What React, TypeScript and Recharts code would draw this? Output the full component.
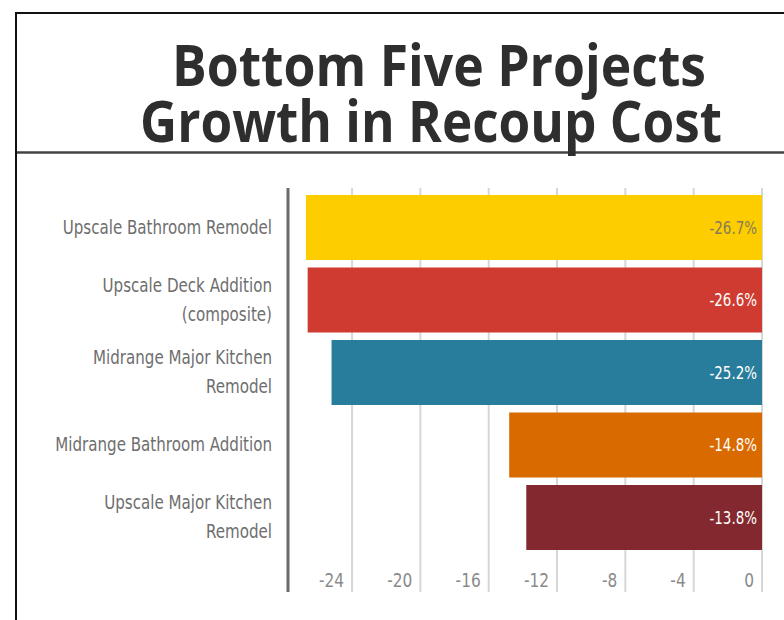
import React from "react";
import { BarChart, Bar, XAxis, YAxis, CartesianGrid, Cell, LabelList } from "recharts";

// data
const projects = [
  "Upscale Bathroom Remodel",
  "Upscale Deck Addition\n(composite)",
  "Midrange Major Kitchen\nRemodel",
  "Midrange Bathroom Addition",
  "Upscale Major Kitchen\nRemodel",
];
const growth = [-26.7, -26.6, -25.2, -14.8, -13.8];
const barColors = ["#fecd00", "#cf3b31", "#277d9b", "#d96a00", "#83282e"];
const labelColors = ["#857b5a", "#ffffff", "#ffffff", "#ffffff", "#ffffff"];
const xTicks = [-24, -20, -16, -12, -8, -4, 0];

const chartData = projects.map((name, i) => ({ name, value: growth[i], idx: i }));

const FONT = "'DejaVu Sans Condensed', 'Liberation Sans', sans-serif";
const TITLE_FONT = "'Open Sans', 'DejaVu Sans', sans-serif";
const PLOT_BOTTOM = 592;

// narrow text: the reference uses a narrow face we don't have, so squeeze horizontally
function NarrowText({ x, y, scale, children, ...rest }: any) {
  return (
    <text transform={`translate(${x},${y}) scale(${scale},1)`} x={0} y={0} dy="0.35em" fontFamily={FONT} {...rest}>
      {children}
    </text>
  );
}

function ProjectTick(props: any) {
  const { y, payload } = props;
  const lines = String(payload.value).split("\n");
  return (
    <g>
      {lines.map((ln, i) => (
        <NarrowText
          key={i}
          x={272}
          y={y + (i - (lines.length - 1) / 2) * 29}
          scale={0.884}
          textAnchor="end"
          fill="#6e6e6e"
          fontSize={19}
        >
          {ln}
        </NarrowText>
      ))}
    </g>
  );
}

function ValueTick(props: any) {
  const { x, payload } = props;
  return (
    <NarrowText x={x - 8} y={PLOT_BOTTOM - 12} scale={0.9} textAnchor="end" fill="#8a8a8a" fontSize={19}>
      {payload.value}
    </NarrowText>
  );
}

function ValueLabel(props: any) {
  const { x, y, width, height, value, index } = props;
  const right = Math.max(x, x + width);
  return (
    <NarrowText x={right - 5} y={y + height / 2} scale={0.83} textAnchor="end" fill={labelColors[index]} fontSize={18}>
      {value.toFixed(1)}%
    </NarrowText>
  );
}

export default function App() {
  return (
    <div style={{ position: "absolute", left: 0, top: 0, width: 784, height: 620, background: "#fff", overflow: "hidden" }}>
      <svg width={784} height={620} style={{ position: "absolute", left: 0, top: 0 }}>
        <line x1={16} y1={12} x2={16} y2={620} stroke="#111" strokeWidth={2} />
        <line x1={15} y1={13} x2={784} y2={13} stroke="#111" strokeWidth={2} />
        <line x1={17} y1={152.5} x2={784} y2={152.5} stroke="#444" strokeWidth={2.5} />
        <text
          x={439}
          y={86}
          textAnchor="middle"
          fontSize={57}
          fontWeight="bold"
          fill="#2e2e2e"
          fontFamily={TITLE_FONT}
          textLength={534}
          lengthAdjust="spacingAndGlyphs"
        >
          Bottom Five Projects
        </text>
        <text
          x={431}
          y={142}
          textAnchor="middle"
          fontSize={57}
          fontWeight="bold"
          fill="#2e2e2e"
          fontFamily={TITLE_FONT}
          textLength={582}
          lengthAdjust="spacingAndGlyphs"
        >
          Growth in Recoup Cost
        </text>
      </svg>
      <div style={{ position: "absolute", left: 0, top: 0 }}>
        <BarChart
          width={784}
          height={620}
          data={chartData}
          layout="vertical"
          margin={{ top: 188, right: 22, bottom: 0, left: 0 }}
        >
          <CartesianGrid horizontal={false} stroke="#d6d6d6" strokeWidth={2} />
          <XAxis
            type="number"
            domain={[-27.75, 0]}
            ticks={xTicks}
            axisLine={false}
            tickLine={false}
            height={28}
            tick={<ValueTick />}
            allowDataOverflow
          />
          <YAxis
            type="category"
            dataKey="name"
            width={288}
            axisLine={{ stroke: "#6b6b6b", strokeWidth: 3 }}
            tickLine={false}
            tick={<ProjectTick />}
            padding={{ top: 3, bottom: 38.5 }}
            interval={0}
          />
          <Bar dataKey="value" barSize={65} isAnimationActive={false}>
            {chartData.map((d) => (
              <Cell key={d.idx} fill={barColors[d.idx]} />
            ))}
            <LabelList dataKey="value" content={<ValueLabel />} />
          </Bar>
        </BarChart>
      </div>
    </div>
  );
}
